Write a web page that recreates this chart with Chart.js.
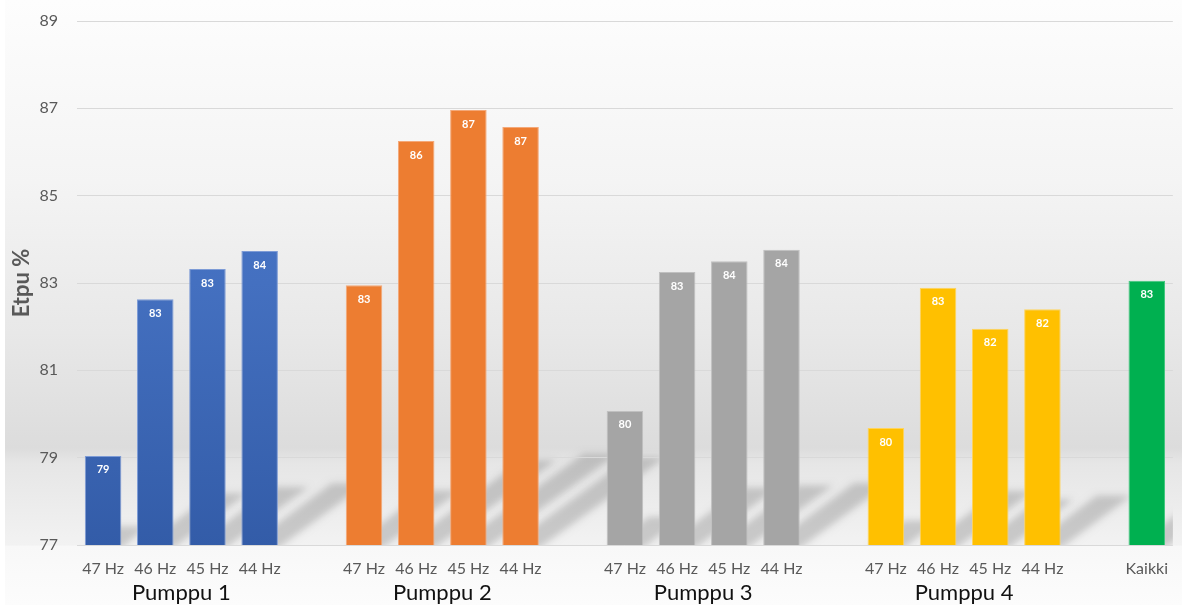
<!DOCTYPE html>
<html>
<head>
<meta charset="utf-8">
<script src="https://cdn.jsdelivr.net/npm/chart.js@4.4.1/dist/chart.umd.min.js"></script>
<style>
  html, body { margin: 0; padding: 0; background: #fff; }
  #wrap { width: 1182px; height: 605px; }
</style>
</head>
<body>
<div id="wrap"><canvas id="etpu" width="1182" height="605"></canvas></div>
<script>
// Pumppujen hyötysuhteet taajuuksittain
const hzLabels = ['47 Hz', '46 Hz', '45 Hz', '44 Hz'];
const pumpNames = ['Pumppu 1', 'Pumppu 2', 'Pumppu 3', 'Pumppu 4'];
const pumppu1 = [79.04, 82.63, 83.32, 83.73];
const pumppu2 = [82.95, 86.25, 86.96, 86.57];
const pumppu3 = [80.07, 83.25, 83.50, 83.76];
const pumppu4 = [79.68, 82.89, 81.95, 82.40];
const kaikkiLabel = 'Kaikki';
const kaikki = 83.05;
const yTicks = [77, 79, 81, 83, 85, 87, 89];

const pumpColors = ['#4472C4', '#ED7D31', '#A5A5A5', '#FFC000'];
const pumpEdges = ['#7d9bd6', '#f4a878', '#c0c0c0', '#ffd45c'];
const kaikkiColor = '#00B050';
const FONT = 'Lato, "Open Sans", sans-serif';

// one flat category list, blank slot between the pumps
const categories = [], values = [], colors = [], edges = [], groups = [];
[pumppu1, pumppu2, pumppu3, pumppu4].forEach((vals, p) => {
    const idx = [];
    vals.forEach((v, i) => {
        idx.push(categories.length);
        categories.push(hzLabels[i]);
        values.push(v);
        colors.push(pumpColors[p]);
        edges.push(pumpEdges[p]);
    });
    groups.push({ name: pumpNames[p], idx });
    categories.push('');
    values.push(null);
    colors.push('transparent');
    edges.push('transparent');
});
categories.push(kaikkiLabel);
values.push(kaikki);
colors.push(kaikkiColor);
edges.push('#3fc77d');

function barFill(ctx) {
    const c = colors[ctx.dataIndex];
    const area = ctx.chart.chartArea;
    if (c !== '#4472C4' || !area) return c;
    const g = ctx.chart.ctx.createLinearGradient(0, area.top, 0, area.bottom);
    g.addColorStop(0, '#4a7bd0');
    g.addColorStop(0.5, '#4470c0');
    g.addColorStop(1, '#335ca8');
    return g;
}

// grey backdrop plus the soft slanted floor shadows cast by each bar
const backdrop = {
    id: 'backdrop',
    beforeDraw(chart) {
        const { ctx, width, height, chartArea } = chart;
        const xs = chart.scales.x, ys = chart.scales.y;
        const base = ys.getPixelForValue(77);
        ctx.save();
        ctx.fillStyle = '#ffffff';
        ctx.fillRect(0, 0, width, height);
        const g = ctx.createLinearGradient(0, 0, 0, height);
        g.addColorStop(0, '#fdfdfd');
        g.addColorStop(0.3, '#f4f4f4');
        g.addColorStop(0.55, '#e8e8e8');
        g.addColorStop(0.74, '#dcdcdc');
        g.addColorStop(0.765, '#e6e6e6');
        g.addColorStop(base / height, '#f2f2f2');
        g.addColorStop(base / height + 0.002, '#f8f8f8');
        g.addColorStop(1, '#fcfcfc');
        ctx.fillStyle = g;
        ctx.fillRect(5, 0, width - 5, height);

        ctx.beginPath();
        ctx.rect(chartArea.left, chartArea.top, chartArea.right - chartArea.left, base - chartArea.top);
        ctx.clip();
        // shape drawn off-canvas, only its blurred shadow lands on the floor
        const off = 3000;
        ctx.fillStyle = '#000';
        ctx.shadowColor = 'rgba(0,0,0,0.17)';
        ctx.shadowBlur = 7;
        ctx.shadowOffsetX = off;
        const half = xs.width / categories.length * 0.7 / 2 - 1;
        values.forEach((v, i) => {
            if (v == null) return;
            const cx = xs.getPixelForTick(i) - off;
            const h = (base - ys.getPixelForValue(v)) * 0.21;
            const dx = h * 1.45;
            ctx.beginPath();
            ctx.moveTo(cx - half, base + 4);
            ctx.lineTo(cx + half, base + 4);
            ctx.lineTo(cx + half + dx, base - h);
            ctx.lineTo(cx - half + dx, base - h);
            ctx.closePath();
            ctx.fill();
        });
        ctx.restore();
    }
};

const valueLabels = {
    id: 'valueLabels',
    afterDatasetsDraw(chart) {
        const { ctx } = chart;
        const bars = chart.getDatasetMeta(0).data;
        ctx.save();
        ctx.fillStyle = '#ffffff';
        ctx.font = 'bold 11px ' + FONT;
        ctx.textAlign = 'center';
        ctx.textBaseline = 'middle';
        bars.forEach((bar, i) => {
            if (values[i] == null) return;
            ctx.fillText(String(Math.round(values[i])), bar.x, bar.y + 14);
        });
        ctx.restore();
    }
};

const groupLabels = {
    id: 'groupLabels',
    afterDraw(chart) {
        const { ctx } = chart;
        const x = chart.scales.x;
        ctx.save();
        ctx.fillStyle = '#111111';
        ctx.font = '22px ' + FONT;
        ctx.textAlign = 'center';
        ctx.textBaseline = 'middle';
        groups.forEach(g => {
            const a = x.getPixelForTick(g.idx[0]);
            const b = x.getPixelForTick(g.idx[g.idx.length - 1]);
            ctx.fillText(g.name, (a + b) / 2, 593);
        });
        ctx.restore();
    }
};

new Chart(document.getElementById('etpu'), {
    type: 'bar',
    data: {
        labels: categories,
        datasets: [{
            data: values,
            backgroundColor: barFill,
            borderColor: edges,
            borderWidth: 1,
            barPercentage: 0.7,
            categoryPercentage: 1.0
        }]
    },
    options: {
        responsive: false,
        animation: false,
        devicePixelRatio: 1,
        layout: { padding: { top: 21, right: 0, bottom: 0, left: 0 } },
        plugins: { legend: { display: false }, tooltip: { enabled: false } },
        scales: {
            x: {
                grid: { display: false, drawTicks: false },
                border: { display: false },
                ticks: { color: '#595959', font: { family: FONT, size: 16 }, padding: 14, maxRotation: 0, autoSkip: false },
                afterFit(scale) { scale.height = 60; }
            },
            y: {
                min: 77,
                max: 89,
                afterBuildTicks(scale) { scale.ticks = yTicks.map(v => ({ value: v })); },
                grid: { color: '#d9d9d9', drawTicks: false },
                border: { display: false },
                ticks: { color: '#595959', font: { family: FONT, size: 16 }, padding: 19 },
                title: { display: true, text: 'Etpu %', color: '#595959', font: { family: FONT, size: 22, weight: 'bold' }, padding: { top: 9, bottom: 0 } },
                afterFit(scale) {
                    scale.width = 77;
                    // tick padding would otherwise push the plot top down
                    scale.paddingTop = 0;
                    scale.paddingBottom = 0;
                }
            }
        }
    },
    plugins: [backdrop, valueLabels, groupLabels]
});
</script>
</body>
</html>
